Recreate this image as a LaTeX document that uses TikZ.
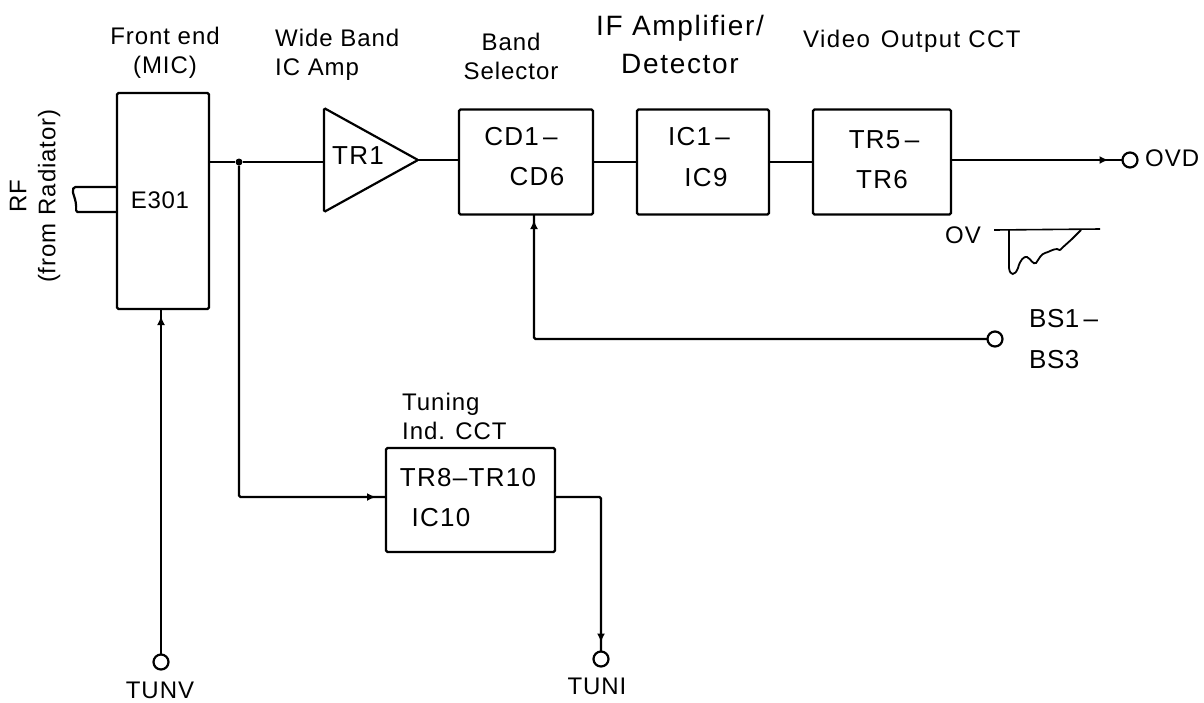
\documentclass[tikz,border=0pt]{standalone}
\usepackage{fontspec}
\setmainfont{Liberation Sans}
\usetikzlibrary{arrows.meta, calc, decorations.markings, shapes.geometric}
\tikzset{
  blockbox/.style={draw, line width=2.2pt, rounded corners=1.5pt, inner sep=0pt, outer sep=0pt},
  terminal/.style={draw, circle, fill=white, line width=2.2pt, minimum size=15pt, inner sep=0pt, outer sep=0pt},
  junction/.style={fill, circle, minimum size=7pt, inner sep=0pt},
  wire/.style={line width=2.2pt, rounded corners=1.5pt},
  tipat/.style={postaction=decorate, decoration={markings, mark=at position #1 with {\arrow{Latex[length=9pt,width=8pt]}}}},
  title/.style={inner sep=0pt, align=center, font=\fontsize{24}{29}\selectfont\addfontfeature{LetterSpace=4}},
  blocktext/.style={inner sep=0pt, font=\fontsize{26}{28}\selectfont\addfontfeature{LetterSpace=5}}
}

\begin{document}
\begin{tikzpicture}[x=1pt, y=-1pt]
  \useasboundingbox (0,0) rectangle (1204,702);

  % blocks
  \node[blockbox, minimum width=92pt, minimum height=216pt] (front) at (163,201) {};
  \node[blockbox, draw, isosceles triangle, isosceles triangle stretches, minimum width=104pt, minimum height=94pt,
        anchor=lower side] (tr1) at (324,160) {};
  \node[blockbox, minimum width=134pt, minimum height=105pt] (cd) at (526,162) {};
  \node[blockbox, minimum width=132pt, minimum height=105pt] (ic) at (703,162) {};
  \node[blockbox, minimum width=138pt, minimum height=105pt] (tr5) at (882,162) {};
  \node[blockbox, minimum width=169pt, minimum height=104pt] (tune) at (470.5,500) {};

  % terminals
  \node[terminal] (ovd) at (1130,160) {};
  \node[terminal] (bsel) at (995,339) {};
  \node[terminal] (tunv) at (161,662) {};
  \node[terminal] (tuni) at (601,659) {};
  \node[junction] (junc) at (239,162) {};

  % wires
  \draw[wire] (front.east |- junc) -- (junc) -- (tr1.lower side |- junc);
  \draw[wire] (tr1.apex) -- (tr1.apex -| cd.west);
  \draw[wire] (cd.east) -- (ic.west);
  \draw[wire] (ic.east) -- (tr5.west);
  \draw[wire, tipat=-14pt] (tr5.east |- ovd) -- (ovd.west);
  \draw[wire, tipat=-6pt] (bsel.west) -| (534,214);
  \draw[wire, tipat=-7pt] (tunv.north) -- (tunv.north |- front.south);
  \draw[wire, tipat=-10pt] (junc) |- (tune.west |- 0,497);
  \draw[wire, tipat=-9pt] (tune.east |- 0,497) -| (tuni.north);
  \draw[wire] (front.west |- 0,187) -- (74,187) .. controls (71,193) and (77,198) .. (76,212) -- (front.west |- 0,212);

  % block labels
  \node[blocktext, font=\fontsize{24}{28}\selectfont\addfontfeature{LetterSpace=3}] (e301) at (160,200) {E301};
  \node[blocktext] (tr1txt) at (358,156) {TR1};
  \node[blocktext] (cda) at (521,137) {CD1\,--};
  \node[blocktext] (cdb) at (537,177) {CD6};
  \node[blocktext] (ica) at (699,137) {IC1\,--};
  \node[blocktext] (icb) at (706,178) {IC9};
  \node[blocktext] (tra) at (884,140) {TR5\,--};
  \node[blocktext] (trb) at (882,180) {TR6};
  \node[blocktext] (tua) at (468,478) {TR8--TR10};
  \node[blocktext] (tub) at (441,518) {IC10};

  % titles
  \node[title] (ttfront) at (165,53) {Front end\\(MIC)};
  \node[title, align=left, anchor=west] (ttwide) at (275,55) {Wide Band\\IC Amp};
  \node[title] (ttband) at (511,56) {Band\\Selector};
  \node[inner sep=0pt, align=center, font=\fontsize{28}{38}\selectfont\addfontfeature{LetterSpace=6}] (ttif) at (680,44) {IF Amplifier/\\Detector};
  \node[title, anchor=west, font=\fontsize{24}{29}\selectfont\addfontfeature{LetterSpace=6}] (ttvideo) at (803,41) {Video\hspace{3pt} Output CCT};
  \node[title, align=left, anchor=west] (tttune) at (402,416) {Tuning\\Ind. CCT};
  \node[title, rotate=90] (ttrf) at (35,196) {RF\\(from Radiator)};

  % terminal labels
  \node[title, anchor=west] (lbovd) at (1145,158) {OVD};
  \node[title] (lbov) at (963,235) {OV};
  \node[blocktext, anchor=west, align=left, font=\fontsize{26}{41}\selectfont\addfontfeature{LetterSpace=2}] (lbbs) at (1029,339) {BS1\,--\\BS3};
  \node[title] (lbtunv) at (160,690) {TUNV};
  \node[title] (lbtuni) at (597,686) {TUNI};

  % OV pulse
  \draw[line width=1.6pt] (994,230) -- (1100,229);
  \draw[line width=1.8pt] (1009,230) -- (1009,268) .. controls (1010,276) and (1015,276) .. (1018,268)
    .. controls (1020,260) and (1024,256) .. (1027,257) .. controls (1031,259) and (1033,265) .. (1036,263)
    .. controls (1039,259) and (1041,254) .. (1045,253) .. controls (1049,252) and (1053,249) .. (1057,249)
    .. controls (1059,250) and (1060,251) .. (1062,248) -- (1072,239) -- (1081,230);
\end{tikzpicture}
\end{document}
